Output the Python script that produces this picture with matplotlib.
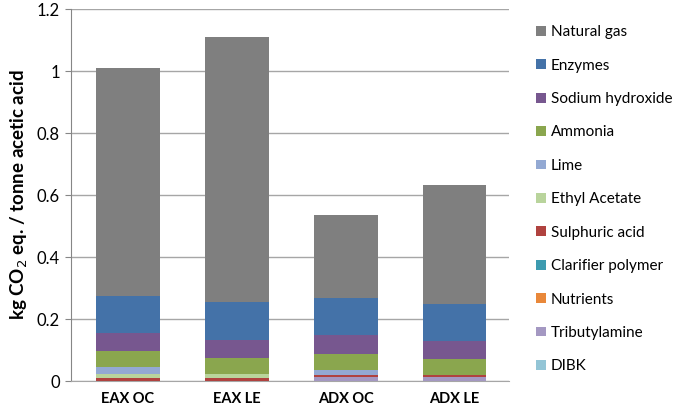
import matplotlib
matplotlib.use("Agg")
import matplotlib.pyplot as plt
import numpy as np
from matplotlib.patches import Patch

categories = ["EAX OC", "EAX LE", "ADX OC", "ADX LE"]
components = ["DIBK", "Tributylamine", "Nutrients", "Clarifier polymer", "Sulphuric acid",
              "Ethyl Acetate", "Lime", "Ammonia", "Sodium hydroxide", "Enzymes", "Natural gas"]
dibk = [0.0, 0.0, 0.0, 0.0]
tributylamine = [0.0, 0.0, 0.013, 0.013]
nutrients = [0.0, 0.0, 0.0, 0.0]
clarifier = [0.0, 0.0, 0.0, 0.0]
sulphuric = [0.010, 0.010, 0.006, 0.006]
ethyl_acetate = [0.013, 0.013, 0.0, 0.0]
lime = [0.021, 0.0, 0.018, 0.0]
ammonia = [0.052, 0.052, 0.052, 0.051]
naoh = [0.059, 0.058, 0.061, 0.059]
enzymes = [0.118, 0.122, 0.118, 0.120]
natural_gas = [0.736, 0.855, 0.269, 0.384]
series = [dibk, tributylamine, nutrients, clarifier, sulphuric, ethyl_acetate,
          lime, ammonia, naoh, enzymes, natural_gas]
colors = ["#93c5d6", "#a498c2", "#e9883a", "#3d9bb0", "#b0423f", "#b9d49c",
          "#93a9d3", "#8aa64e", "#77578f", "#4472a8", "#7f7f7f"]

plt.rcParams['font.family'] = ['Lato', 'DejaVu Sans']
fig = plt.figure(figsize=(6.85, 4.12), dpi=100)
ax = fig.add_axes([0.1036, 0.075, 0.6394, 0.903])

x = np.arange(len(categories))
bottom = np.zeros(len(categories))
for vals, col in zip(series, colors):
    ax.bar(x, vals, bottom=bottom, width=0.587, color=col, zorder=3)
    bottom += np.array(vals)

ax.set_ylim(0, 1.2)
ax.set_xlim(-0.52, 3.5)
ax.set_yticks([0, 0.2, 0.4, 0.6, 0.8, 1.0, 1.2])
ax.set_yticklabels(["0", "0.2", "0.4", "0.6", "0.8", "1", "1.2"], fontsize=12)
ax.set_xticks(x)
ax.set_xticklabels(categories, fontsize=10.5, fontweight='bold')
ax.tick_params(axis='x', length=0, pad=8)
ax.tick_params(axis='y', length=4, color='#868686', pad=4)
ax.yaxis.grid(True, color='#a6a6a6', linewidth=1, zorder=0)
for s in ['top', 'right']:
    ax.spines[s].set_visible(False)
ax.spines['left'].set_color('#868686')
ax.spines['bottom'].set_color('#a6a6a6')
ax.set_ylabel("kg CO$_2$ eq. / tonne acetic acid", fontsize=13.5, fontweight='bold', labelpad=5)

handles = [Patch(facecolor=c, label=l) for c, l in zip(colors, components)][::-1]
leg = fig.legend(handles=handles, loc='upper left', bbox_to_anchor=(0.763, 0.972),
                 frameon=False, fontsize=11, handlelength=0.6, handleheight=0.6,
                 handletextpad=0.35, labelspacing=1.27)
fig.savefig("out.png", dpi=100)
